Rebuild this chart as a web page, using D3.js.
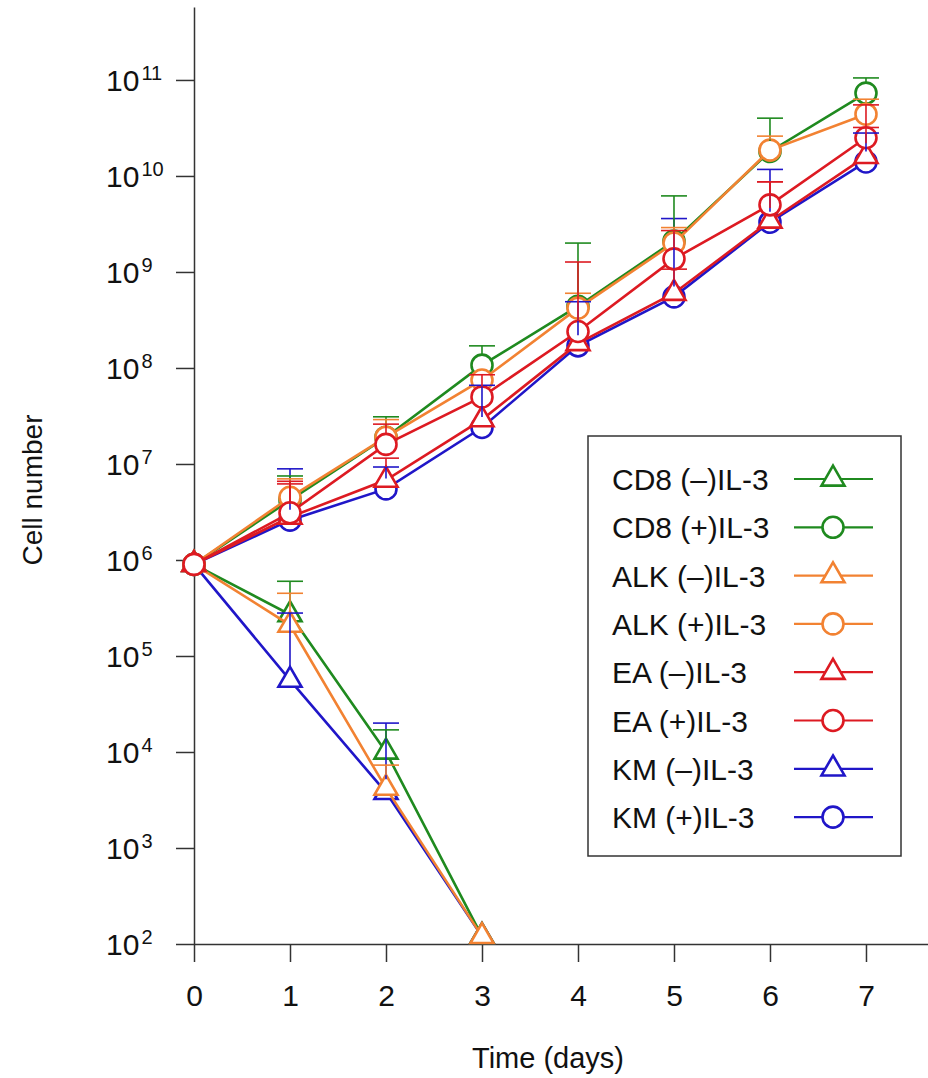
<!doctype html>
<html lang="en">
<head>
<meta charset="utf-8">
<script src="https://d3js.org/d3.v7.min.js"></script>
<style>
  body { margin: 0; background: #fff; }
  svg text { font-family: "Liberation Sans", Arial, Helvetica, sans-serif; fill: #111; }
  .axis path, .axis line { stroke: #333; stroke-width: 1.5px; }
</style>
</head>
<body>
<svg width="928" height="1078"></svg>
<script>
// time points (days)
const days = [0, 1, 2, 3, 4, 5, 6, 7];

// series labels, colours, marker shapes
const names = ["CD8 (\u2013)IL-3", "CD8 (+)IL-3", "ALK (\u2013)IL-3", "ALK (+)IL-3",
               "EA (\u2013)IL-3", "EA (+)IL-3", "KM (\u2013)IL-3", "KM (+)IL-3"];
const colors = ["#1f8a1f", "#1f8a1f", "#f28232", "#f28232",
                "#dd1a22", "#dd1a22", "#2016c8", "#2016c8"];
const shapes = ["tri", "circle", "tri", "circle", "tri", "circle", "tri", "circle"];

// mean cell numbers (declining series stop at day 3)
const cd8Minus = [9e5, 2.7e5, 1.0e4, 1.2e2];
const cd8Plus  = [9e5, 4.2e6, 1.9e7, 1.07e8, 4.4e8, 2.1e9, 1.8e10, 7.3e10];
const alkMinus = [9e5, 2.1e5, 4.2e3, 1.2e2];
const alkPlus  = [9e5, 4.5e6, 1.9e7, 7.5e7, 4.2e8, 2.0e9, 1.86e10, 4.4e10];
const eaMinus  = [9e5, 2.8e6, 6.8e6, 2.9e7, 1.8e8, 6.0e8, 3.4e9, 1.6e10];
const eaPlus   = [9e5, 3.1e6, 1.6e7, 5.0e7, 2.4e8, 1.37e9, 5.0e9, 2.5e10];
const kmMinus  = [9e5, 5.6e4, 3.8e3, 1.2e2];
const kmPlus   = [9e5, 2.6e6, 5.5e6, 2.4e7, 1.7e8, 5.5e8, 3.3e9, 1.4e10];

// upper error bar ends (null = no bar)
const cd8MinusErr = [null, 6.0e5, 1.7e4, null];
const cd8PlusErr  = [null, 7.5e6, 3.1e7, 1.7e8, 2.0e9, 6.2e9, 4.0e10, 1.05e11];
const alkMinusErr = [null, 4.5e5, 7.3e3, null];
const alkPlusErr  = [null, 7.0e6, 2.9e7, 9.5e7, 6.0e8, 2.9e9, 2.6e10, 6.3e10];
const eaMinusErr  = [null, 6.6e6, 1.15e7, 3.8e7, null, 1.07e9, 8.7e9, 3.2e10];
const eaPlusErr   = [null, 6.2e6, 2.6e7, 8.5e7, 1.27e9, 2.7e9, 8.7e9, 5.5e10];
const kmMinusErr  = [null, 2.8e5, 2.0e4, null];
const kmPlusErr   = [null, 8.9e6, 9.3e6, 6.6e7, 4.9e8, 3.6e9, 1.17e10, 2.8e10];

const values = [cd8Minus, cd8Plus, alkMinus, alkPlus, eaMinus, eaPlus, kmMinus, kmPlus];
const errs = [cd8MinusErr, cd8PlusErr, alkMinusErr, alkPlusErr, eaMinusErr, eaPlusErr, kmMinusErr, kmPlusErr];

const yTicks = [2, 3, 4, 5, 6, 7, 8, 9, 10, 11];

const svg = d3.select("svg");

const x = d3.scaleLinear().domain([0, 7.646]).range([194, 928]);
const y = d3.scaleLog().domain([1e2, Math.pow(10, 11.76)]).range([944, 7]);

// axes
const xAxis = svg.append("g").attr("class", "axis")
  .attr("transform", "translate(0,944)")
  .call(d3.axisBottom(x).tickValues(days).tickSize(18).tickSizeOuter(0));
xAxis.selectAll("text")
  .attr("y", 62).attr("dy", null)
  .style("font-size", "30px");

const yAxis = svg.append("g").attr("class", "axis")
  .attr("transform", "translate(194,0)")
  .call(d3.axisLeft(y).tickValues(yTicks.map(k => Math.pow(10, k))).tickSize(18).tickSizeOuter(0).tickFormat(""));

const yLab = svg.append("g").selectAll("text").data(yTicks).join("text")
  .attr("x", 106)
  .attr("y", k => y(Math.pow(10, k)) + 11)
  .style("font-size", "30px");
yLab.append("tspan").text("10");
yLab.append("tspan").attr("dx", 2).attr("dy", -11).style("font-size", "20px").text(k => k);

// axis titles
svg.append("text")
  .attr("x", 548).attr("y", 1068)
  .attr("text-anchor", "middle")
  .style("font-size", "29px")
  .text("Time (days)");
svg.append("text")
  .attr("transform", "translate(42,490) rotate(-90)")
  .attr("text-anchor", "middle")
  .style("font-size", "28px")
  .text("Cell number");

const line = d3.line().x((d, i) => x(days[i])).y(d => y(d));
const triangle = d3.symbol(d3.symbolTriangle, 230);

function marker(sel, shape, color) {
  if (shape === "circle") {
    sel.append("circle").attr("r", 10.5)
      .attr("fill", "#fff").attr("stroke", color).attr("stroke-width", 2.6);
  } else {
    sel.append("path").attr("d", triangle)
      .attr("fill", "#fff").attr("stroke", color).attr("stroke-width", 2.6);
  }
}

// draw order: KM, CD8, ALK, EA (triangle before circle)
const order = [6, 7, 0, 1, 2, 3, 4, 5];
const plot = svg.append("g");
order.forEach(s => {
  const g = plot.append("g");
  g.append("path")
    .attr("d", line(values[s]))
    .attr("fill", "none")
    .attr("stroke", colors[s])
    .attr("stroke-width", 2.6);
  values[s].forEach((v, i) => {
    const m = g.append("g").attr("transform", `translate(${x(days[i])},${y(v)})`);
    marker(m, shapes[s], colors[s]);
  });
});

// error bars on top
const bars = svg.append("g");
order.forEach(s => {
  errs[s].forEach((e, i) => {
    if (e == null) return;
    const cx = x(days[i]);
    const y0 = y(values[s][i]) - (shapes[s] === "circle" ? 10.5 : 13);
    const y1 = y(e);
    if (y1 >= y0) return;
    bars.append("line").attr("x1", cx).attr("x2", cx).attr("y1", y0).attr("y2", y1)
      .attr("stroke", colors[s]).attr("stroke-width", 1.6);
    bars.append("line").attr("x1", cx - 13).attr("x2", cx + 13).attr("y1", y1).attr("y2", y1)
      .attr("stroke", colors[s]).attr("stroke-width", 1.6);
  });
});

// legend
const legend = svg.append("g");
legend.append("rect")
  .attr("x", 588).attr("y", 436).attr("width", 313).attr("height", 420)
  .attr("fill", "#fff").attr("stroke", "#333").attr("stroke-width", 1.5);
names.forEach((n, i) => {
  const cy = 479 + i * 48.3;
  legend.append("text").attr("x", 612).attr("y", cy + 11)
    .style("font-size", "30px").text(n);
  legend.append("line").attr("x1", 794).attr("x2", 873).attr("y1", cy).attr("y2", cy)
    .attr("stroke", colors[i]).attr("stroke-width", 2.2);
  const m = legend.append("g").attr("transform", `translate(833,${cy})`);
  marker(m, shapes[i], colors[i]);
});
</script>
</body>
</html>
